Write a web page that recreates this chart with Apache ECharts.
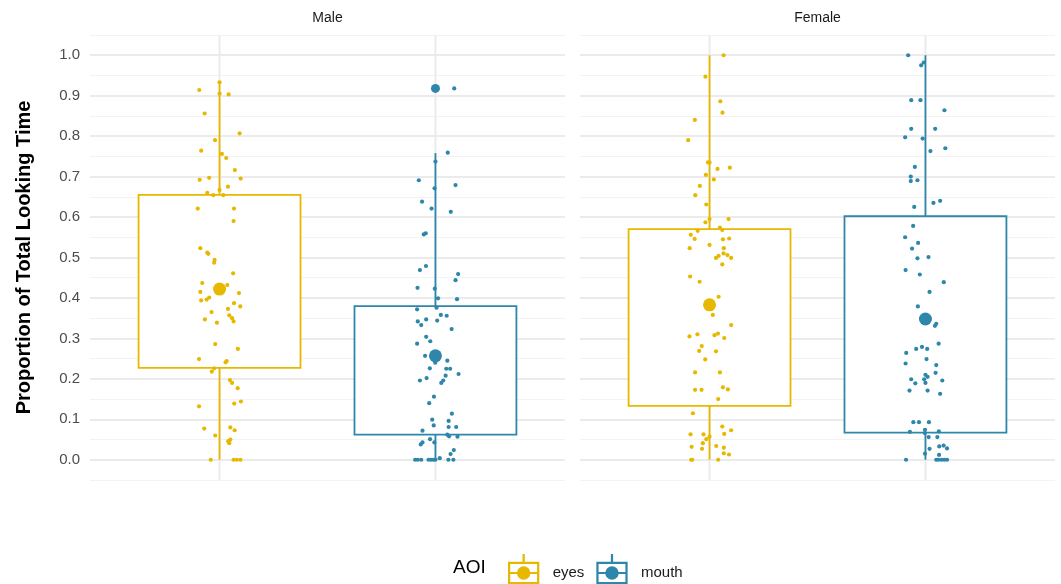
<!DOCTYPE html>
<html>
<head>
<meta charset="utf-8">
<script src="https://cdn.jsdelivr.net/npm/echarts@6/dist/echarts.min.js"></script>
<style>
  html, body { margin: 0; padding: 0; background: #fff; }
  #chart { width: 1061px; height: 584px; }
</style>
</head>
<body>
<div id="chart"></div>
<script>
// ---------- DATA ----------
const panels = ['Male', 'Female'];
const aoiGroups = ['eyes', 'mouth'];
const yTickLabels = ['0.0','0.1','0.2','0.3','0.4','0.5','0.6','0.7','0.8','0.9','1.0'];

// box stats: [whisker low, lower hinge, upper hinge, whisker high]
const maleEyesBox = [0, 0.227, 0.655, 0.933];
const maleMouthBox = [0, 0.062, 0.380, 0.758];
const femaleEyesBox = [0, 0.133, 0.570, 1.0];
const femaleMouthBox = [0, 0.067, 0.602, 1.0];

// means [eyes, mouth]
const maleMeans = [0.422, 0.257];
const femaleMeans = [0.383, 0.348];

// outliers
const maleMouthOutliers = [0.918];
const femaleOutliers = [];

// jittered raw points: [jitter offset (category units), proportion]
const maleEyesPts = [[0,0.933],[-0.094,0.914],[0,0.905],[0.042,0.903],[-0.069,0.856],[0.093,0.807],[-0.021,0.790],[-0.085,0.764],[0.011,0.756],[0.031,0.746],[0.071,0.716],[-0.092,0.692],[-0.048,0.697],[0.098,0.695],[0.039,0.675],[0,0.667],[-0.057,0.660],[-0.029,0.654],[0.017,0.654],[-0.101,0.621],[0.067,0.621],[0.065,0.590],[-0.089,0.523],[-0.057,0.512],[-0.052,0.509],[-0.023,0.494],[-0.025,0.487],[0.063,0.461],[-0.080,0.437],[0.036,0.432],[-0.089,0.415],[0.090,0.412],[-0.085,0.394],[-0.060,0.396],[-0.048,0.401],[0.067,0.387],[0.096,0.379],[-0.037,0.365],[0.039,0.373],[-0.068,0.347],[-0.012,0.339],[0.045,0.357],[0.058,0.350],[0.065,0.342],[-0.020,0.286],[0.085,0.274],[-0.095,0.249],[0.033,0.244],[0.028,0.241],[-0.025,0.226],[-0.036,0.218],[0.048,0.197],[0.058,0.190],[0.084,0.177],[-0.095,0.132],[0.099,0.144],[0.068,0.139],[-0.071,0.077],[0.050,0.080],[0.070,0.073],[-0.020,0.060],[0.040,0.046],[0.045,0.041],[0.050,0.050],[-0.041,0],[0.065,0],[0.080,0],[0.097,0]];
const maleMouthPts = [[0.087,0.918],[0.057,0.759],[0,0.737],[-0.077,0.691],[0.093,0.679],[-0.004,0.671],[-0.062,0.638],[-0.018,0.621],[0.071,0.613],[-0.054,0.557],[-0.045,0.560],[-0.072,0.469],[-0.044,0.479],[0.105,0.459],[0.093,0.444],[-0.083,0.425],[-0.003,0.423],[0.012,0.399],[0.100,0.397],[-0.085,0.372],[0.005,0.376],[0.025,0.358],[0.052,0.356],[-0.082,0.342],[-0.066,0.333],[-0.043,0.347],[0.008,0.344],[0.075,0.323],[-0.043,0.304],[-0.024,0.293],[-0.085,0.287],[-0.048,0.257],[0.055,0.245],[-0.001,0.240],[-0.026,0.226],[0.050,0.225],[0.068,0.225],[0.047,0.208],[0.107,0.212],[-0.041,0.202],[-0.072,0.196],[0.027,0.190],[0.036,0.196],[-0.007,0.156],[-0.029,0.140],[0.076,0.114],[-0.015,0.099],[-0.008,0.085],[0.061,0.096],[0.096,0.081],[0.061,0.081],[-0.060,0.072],[0.055,0.062],[0.063,0.058],[0.102,0.057],[-0.025,0.051],[-0.005,0.043],[-0.060,0.043],[-0.068,0.038],[0.085,0.024],[0.070,0.014],[-0.094,0],[-0.082,0],[-0.066,0],[-0.032,0],[-0.020,0],[-0.009,0],[0,0],[0.020,0.004],[0.060,0],[0.083,0]];
const femaleEyesPts = [[0.065,1.0],[-0.019,0.947],[0.050,0.886],[0.060,0.858],[-0.068,0.840],[-0.099,0.790],[-0.007,0.735],[0,0.735],[0.037,0.719],[0.094,0.722],[-0.017,0.704],[0.020,0.693],[-0.045,0.677],[-0.066,0.654],[-0.015,0.631],[-0.019,0.587],[0,0.595],[0.088,0.595],[0.048,0.574],[-0.055,0.566],[0.059,0.568],[-0.087,0.556],[-0.069,0.546],[0.062,0.545],[0.091,0.547],[-0.092,0.523],[0,0.531],[0.066,0.523],[0.030,0.499],[0.042,0.504],[0.065,0.510],[0.083,0.506],[0.100,0.499],[0.059,0.483],[-0.090,0.453],[-0.046,0.440],[0.042,0.403],[0.015,0.358],[0.100,0.333],[-0.093,0.305],[-0.056,0.310],[0.023,0.308],[0.039,0.312],[0.068,0.301],[-0.036,0.281],[-0.048,0.269],[0.030,0.268],[-0.020,0.248],[-0.067,0.216],[0.048,0.216],[-0.067,0.173],[-0.037,0.173],[0.062,0.179],[0.085,0.174],[0.040,0.150],[-0.077,0.115],[0.059,0.082],[0.100,0.073],[-0.088,0.063],[-0.028,0.063],[0.068,0.064],[0,0.057],[-0.015,0.051],[-0.031,0.041],[-0.083,0.032],[-0.035,0.027],[0.031,0.034],[0.066,0.030],[0.066,0.016],[0.090,0.013],[-0.085,0],[-0.080,0],[0.040,0]];
const femaleMouthPts = [[-0.080,1.0],[-0.008,0.982],[-0.020,0.975],[-0.066,0.889],[-0.023,0.889],[0.088,0.864],[-0.066,0.818],[0.045,0.818],[-0.094,0.797],[-0.013,0.794],[0.023,0.763],[0.092,0.770],[-0.049,0.724],[-0.068,0.700],[-0.068,0.689],[-0.037,0.691],[-0.052,0.625],[0.037,0.635],[0.068,0.640],[-0.057,0.578],[-0.094,0.550],[-0.034,0.536],[-0.062,0.522],[-0.037,0.498],[0.014,0.501],[-0.092,0.469],[-0.026,0.458],[0.085,0.439],[0.019,0.415],[-0.035,0.379],[0.050,0.336],[0.044,0.331],[0.061,0.287],[-0.089,0.264],[-0.043,0.274],[-0.016,0.279],[0.008,0.274],[0.005,0.249],[-0.092,0.238],[0.050,0.234],[0.047,0.215],[0,0.210],[0.010,0.205],[-0.006,0.199],[0,0.190],[-0.066,0.199],[-0.047,0.189],[0.078,0.196],[-0.074,0.171],[0.010,0.171],[0.068,0.163],[-0.056,0.093],[-0.030,0.093],[0.016,0.093],[-0.072,0.069],[-0.002,0.074],[0.062,0.070],[-0.003,0.066],[0.015,0.056],[0.055,0.056],[0.019,0.027],[0.064,0.033],[0.084,0.035],[0.100,0.028],[-0.002,0.015],[0.063,0.012],[-0.090,0],[0.050,0],[0.060,0],[0.075,0],[0.087,0],[0.100,0]];

// ---------- STYLE ----------
const COLORS = { eyes: '#E7B800', mouth: '#2E86AB' };
const FONT = '"Liberation Sans", Arial, sans-serif';
const BOX_WIDTH = 0.75;
const GRID_TOP = 35, GRID_H = 445, GRID_W = 475;
const GRID_LEFTS = [90, 580];

const panelData = [
  { boxes: [maleEyesBox, maleMouthBox], means: maleMeans, pts: [maleEyesPts, maleMouthPts], outliers: [[], maleMouthOutliers] },
  { boxes: [femaleEyesBox, femaleMouthBox], means: femaleMeans, pts: [femaleEyesPts, femaleMouthPts], outliers: [[], femaleOutliers] }
];

const LEGEND_ICON = 'path://M0 7H28V27H0Z M2 9V25H26V9Z M13 0H15V7H13Z M13 27H15V34H13Z M2 16H26V18H2Z M8 17A6 6 0 1 1 20 17A6 6 0 1 1 8 17Z';

function renderBox(params, api) {
  const x = api.value(0);
  const lo = api.value(1), q1 = api.value(2), q3 = api.value(3), hi = api.value(4);
  const c = api.visual('color');
  const pLo = api.coord([x, lo]), pQ1 = api.coord([x, q1]), pQ3 = api.coord([x, q3]), pHi = api.coord([x, hi]);
  const hw = api.size([BOX_WIDTH, 0])[0] / 2;
  return {
    type: 'group',
    children: [
      { type: 'line', shape: { x1: pLo[0], y1: pLo[1], x2: pQ1[0], y2: pQ1[1] }, style: { stroke: c, lineWidth: 1.8 } },
      { type: 'line', shape: { x1: pQ3[0], y1: pQ3[1], x2: pHi[0], y2: pHi[1] }, style: { stroke: c, lineWidth: 1.8 } },
      { type: 'rect', shape: { x: pQ3[0] - hw, y: pQ3[1], width: 2 * hw, height: pQ1[1] - pQ3[1] }, style: { fill: '#ffffff', stroke: c, lineWidth: 1.8 } }
    ]
  };
}

function renderVGrid(params, api) {
  const x = api.value(0);
  const a = api.coord([x, -0.05]), b = api.coord([x, 1.05]);
  return { type: 'line', shape: { x1: a[0], y1: a[1], x2: b[0], y2: b[1] }, style: { stroke: '#EBEBEB', lineWidth: 2 } };
}

const grid = GRID_LEFTS.map(l => ({ left: l, top: GRID_TOP, width: GRID_W, height: GRID_H }));
const xAxis = GRID_LEFTS.map((l, i) => ({ gridIndex: i, type: 'value', min: 0.4, max: 2.6, show: false }));
const yAxis = [];
GRID_LEFTS.forEach((l, i) => {
  yAxis.push({
    gridIndex: i, type: 'value', position: 'left', min: -0.05, max: 1.05, interval: 0.05,
    axisLine: { show: false }, axisTick: { show: false }, axisLabel: { show: false },
    splitLine: { show: true, lineStyle: { color: ['#F3F3F3', 'rgba(0,0,0,0)'], width: 1 } }
  });
  yAxis.push({
    gridIndex: i, type: 'value', position: 'left', min: -0.05, max: 1.05, interval: 0.05,
    axisLine: { show: false }, axisTick: { show: false },
    axisLabel: {
      show: i === 0, color: '#4D4D4D', fontSize: 15, fontFamily: FONT, margin: 10,
      formatter: v => {
        const k = Math.round(v * 100);
        if (k < 0 || k % 10 !== 0) return '';
        return yTickLabels[k / 10] || '';
      }
    },
    splitLine: { show: true, lineStyle: { color: ['rgba(0,0,0,0)', '#EBEBEB'], width: 2 } },
    name: i === 0 ? 'Proportion of Total Looking Time' : '',
    nameLocation: 'middle', nameGap: 56,
    nameTextStyle: { fontSize: 20, fontWeight: 'bold', color: '#000', fontFamily: FONT }
  });
});

const series = [];
panelData.forEach((pd, p) => {
  const yIdx = p * 2 + 1;
  series.push({
    type: 'custom', name: 'vgrid', xAxisIndex: p, yAxisIndex: yIdx, silent: true, z: 1,
    renderItem: renderVGrid, data: [[1], [2]], encode: { x: 0 }
  });
  aoiGroups.forEach((g, gi) => {
    const b = pd.boxes[gi];
    series.push({
      type: 'custom', name: g, xAxisIndex: p, yAxisIndex: yIdx, z: 2, silent: true,
      itemStyle: { color: COLORS[g] },
      renderItem: renderBox,
      data: [[gi + 1, b[0], b[1], b[2], b[3]]],
      encode: { x: 0, y: [1, 2, 3, 4] }
    });
  });
  aoiGroups.forEach((g, gi) => {
    series.push({
      type: 'scatter', name: g, xAxisIndex: p, yAxisIndex: yIdx, z: 3, silent: true,
      symbolSize: 4.2, itemStyle: { color: COLORS[g], opacity: 1 },
      data: pd.pts[gi].map(d => [gi + 1 + d[0], d[1]])
    });
    if (pd.outliers[gi].length) {
      series.push({
        type: 'scatter', name: g, xAxisIndex: p, yAxisIndex: yIdx, z: 3, silent: true,
        symbolSize: 9, itemStyle: { color: COLORS[g], opacity: 1 },
        data: pd.outliers[gi].map(v => [gi + 1, v])
      });
    }
    series.push({
      type: 'scatter', name: g, xAxisIndex: p, yAxisIndex: yIdx, z: 4, silent: true,
      symbolSize: 13, itemStyle: { color: COLORS[g], opacity: 1 },
      data: [[gi + 1, pd.means[gi]]]
    });
  });
});

const graphic = [];
panels.forEach((name, i) => {
  graphic.push({
    type: 'text', x: GRID_LEFTS[i] + GRID_W / 2, y: 18,
    style: { text: name, fill: '#1A1A1A', font: '14px ' + FONT, textAlign: 'center', textVerticalAlign: 'middle' }
  });
});
graphic.push({
  type: 'text', x: 453, y: 568,
  style: { text: 'AOI', fill: '#000', font: '19px ' + FONT, textAlign: 'left', textVerticalAlign: 'middle' }
});

const option = {
  backgroundColor: '#ffffff',
  animation: false,
  grid, xAxis, yAxis, series, graphic,
  legend: {
    data: aoiGroups.map(g => ({ name: g, icon: LEGEND_ICON })),
    left: 503, top: 549, orient: 'horizontal',
    itemWidth: 32, itemHeight: 38, itemGap: 12,
    selectedMode: false,
    textStyle: { fontSize: 15, color: '#1A1A1A', fontFamily: FONT, padding: [0, 0, 0, 8] }
  }
};

const chart = echarts.init(document.getElementById('chart'), null, { renderer: 'canvas' });
chart.setOption(option);
</script>
</body>
</html>
